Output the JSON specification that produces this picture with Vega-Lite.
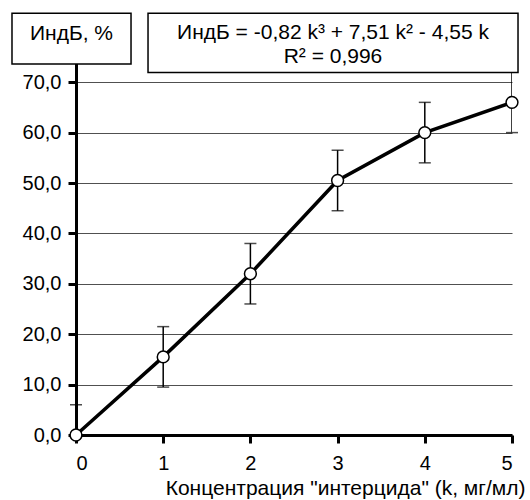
{
  "$schema": "https://vega.github.io/schema/vega-lite/v6.json",
  "autosize": {"type": "none"},
  "width": 436,
  "height": 378,
  "padding": {"left": 76, "top": 57, "right": 18, "bottom": 65},
  "background": "white",
  "config": {
    "view": {"stroke": null},
    "font": "Liberation Sans",
    "axis": {"labelFont": "Liberation Sans", "titleFont": "Liberation Sans", "labelColor": "black", "titleColor": "black"}
  },
  "datasets": {
    "pts": [
      {"k": 0, "indb": 0, "lo": -6, "hi": 6},
      {"k": 1, "indb": 15.5, "lo": 9.5, "hi": 21.5},
      {"k": 2, "indb": 32, "lo": 26, "hi": 38},
      {"k": 3, "indb": 50.5, "lo": 44.5, "hi": 56.5},
      {"k": 4, "indb": 60, "lo": 54, "hi": 66},
      {"k": 5, "indb": 66, "lo": 60, "hi": 72}
    ],
    "boxes": [
      {"x1": -0.734, "x2": 0.631, "y1": 73.6, "y2": 83.7},
      {"x1": 0.826, "x2": 5.069, "y1": 71.9, "y2": 83.7}
    ],
    "labels": [
      {"x": -0.052, "y": 78.3, "t": "ИндБ, %"},
      {"x": 2.947, "y": 78.6, "t": "ИндБ = -0,82 k³ + 7,51 k² - 4,55 k"},
      {"x": 2.947, "y": 73.8, "t": "R² = 0,996"}
    ]
  },
  "layer": [
    {
      "mark": {"type": "rule", "color": "#808080", "strokeWidth": 1},
      "encoding": {"x": {"datum": 5, "type": "quantitative"}}
    },
    {
      "data": {"name": "pts"},
      "mark": {"type": "rule", "color": "black", "strokeWidth": 1.5, "clip": true},
      "encoding": {
        "x": {"field": "k", "type": "quantitative",
          "scale": {"domain": [0, 5], "nice": false, "zero": false},
          "axis": {
            "values": [0, 1, 2, 3, 4, 5],
            "format": "d",
            "grid": false,
            "ticks": true,
            "domainColor": "black", "domainWidth": 3,
            "tickColor": "black", "tickWidth": 3, "tickSize": 8,
            "labelFontSize": 20, "labelPadding": 10,
            "title": "Концентрация \"интерцида\" (k, мг/мл)",
            "titleFontSize": 21, "titleFontWeight": "normal",
            "titleAnchor": "end", "titleAlign": "right",
            "titleX": 449, "titleY": 59, "titleBaseline": "alphabetic"
          }},
        "y": {"field": "lo", "type": "quantitative",
          "scale": {"domain": [0, 75], "nice": false},
          "axis": {
            "values": [0, 10, 20, 30, 40, 50, 60, 70],
            "labelExpr": "replace(format(datum.value, '.1f'), '.', ',')",
            "grid": true, "gridColor": "#505050", "gridWidth": 1,
            "ticks": true,
            "domainColor": "black", "domainWidth": 3,
            "tickColor": "black", "tickWidth": 3, "tickSize": 8,
            "labelFontSize": 20, "labelPadding": 7,
            "title": null
          }},
        "y2": {"field": "hi"}
      }
    },
    {
      "data": {"name": "pts"},
      "transform": [{"filter": "datum.lo >= 0"}],
      "mark": {"type": "tick", "orient": "horizontal", "color": "black", "thickness": 1.5, "size": 12},
      "encoding": {
        "x": {"field": "k", "type": "quantitative"},
        "y": {"field": "lo", "type": "quantitative"}
      }
    },
    {
      "data": {"name": "pts"},
      "mark": {"type": "tick", "orient": "horizontal", "color": "black", "thickness": 1.5, "size": 12},
      "encoding": {
        "x": {"field": "k", "type": "quantitative"},
        "y": {"field": "hi", "type": "quantitative"}
      }
    },
    {
      "data": {"name": "pts"},
      "mark": {"type": "line", "color": "black", "strokeWidth": 3.5},
      "encoding": {
        "x": {"field": "k", "type": "quantitative"},
        "y": {"field": "indb", "type": "quantitative"}
      }
    },
    {
      "data": {"name": "pts"},
      "mark": {"type": "point", "shape": "circle", "filled": true, "fill": "white", "stroke": "black", "strokeWidth": 1.5, "size": 140, "opacity": 1},
      "encoding": {
        "x": {"field": "k", "type": "quantitative"},
        "y": {"field": "indb", "type": "quantitative"}
      }
    },
    {
      "mark": {"type": "rule", "color": "#606060", "strokeWidth": 1},
      "encoding": {
        "x": {"datum": 0.631, "type": "quantitative"},
        "x2": {"datum": 0.826},
        "y": {"datum": 80, "type": "quantitative"}
      }
    },
    {
      "data": {"name": "boxes"},
      "mark": {"type": "rect", "fill": "white", "stroke": "black", "strokeWidth": 1.5},
      "encoding": {
        "x": {"field": "x1", "type": "quantitative"},
        "x2": {"field": "x2"},
        "y": {"field": "y1", "type": "quantitative"},
        "y2": {"field": "y2"}
      }
    },
    {
      "data": {"name": "labels"},
      "mark": {"type": "text", "fontSize": 21, "color": "black", "align": "center", "baseline": "alphabetic", "font": "Liberation Sans"},
      "encoding": {
        "x": {"field": "x", "type": "quantitative"},
        "y": {"field": "y", "type": "quantitative"},
        "text": {"field": "t"}
      }
    }
  ]
}
